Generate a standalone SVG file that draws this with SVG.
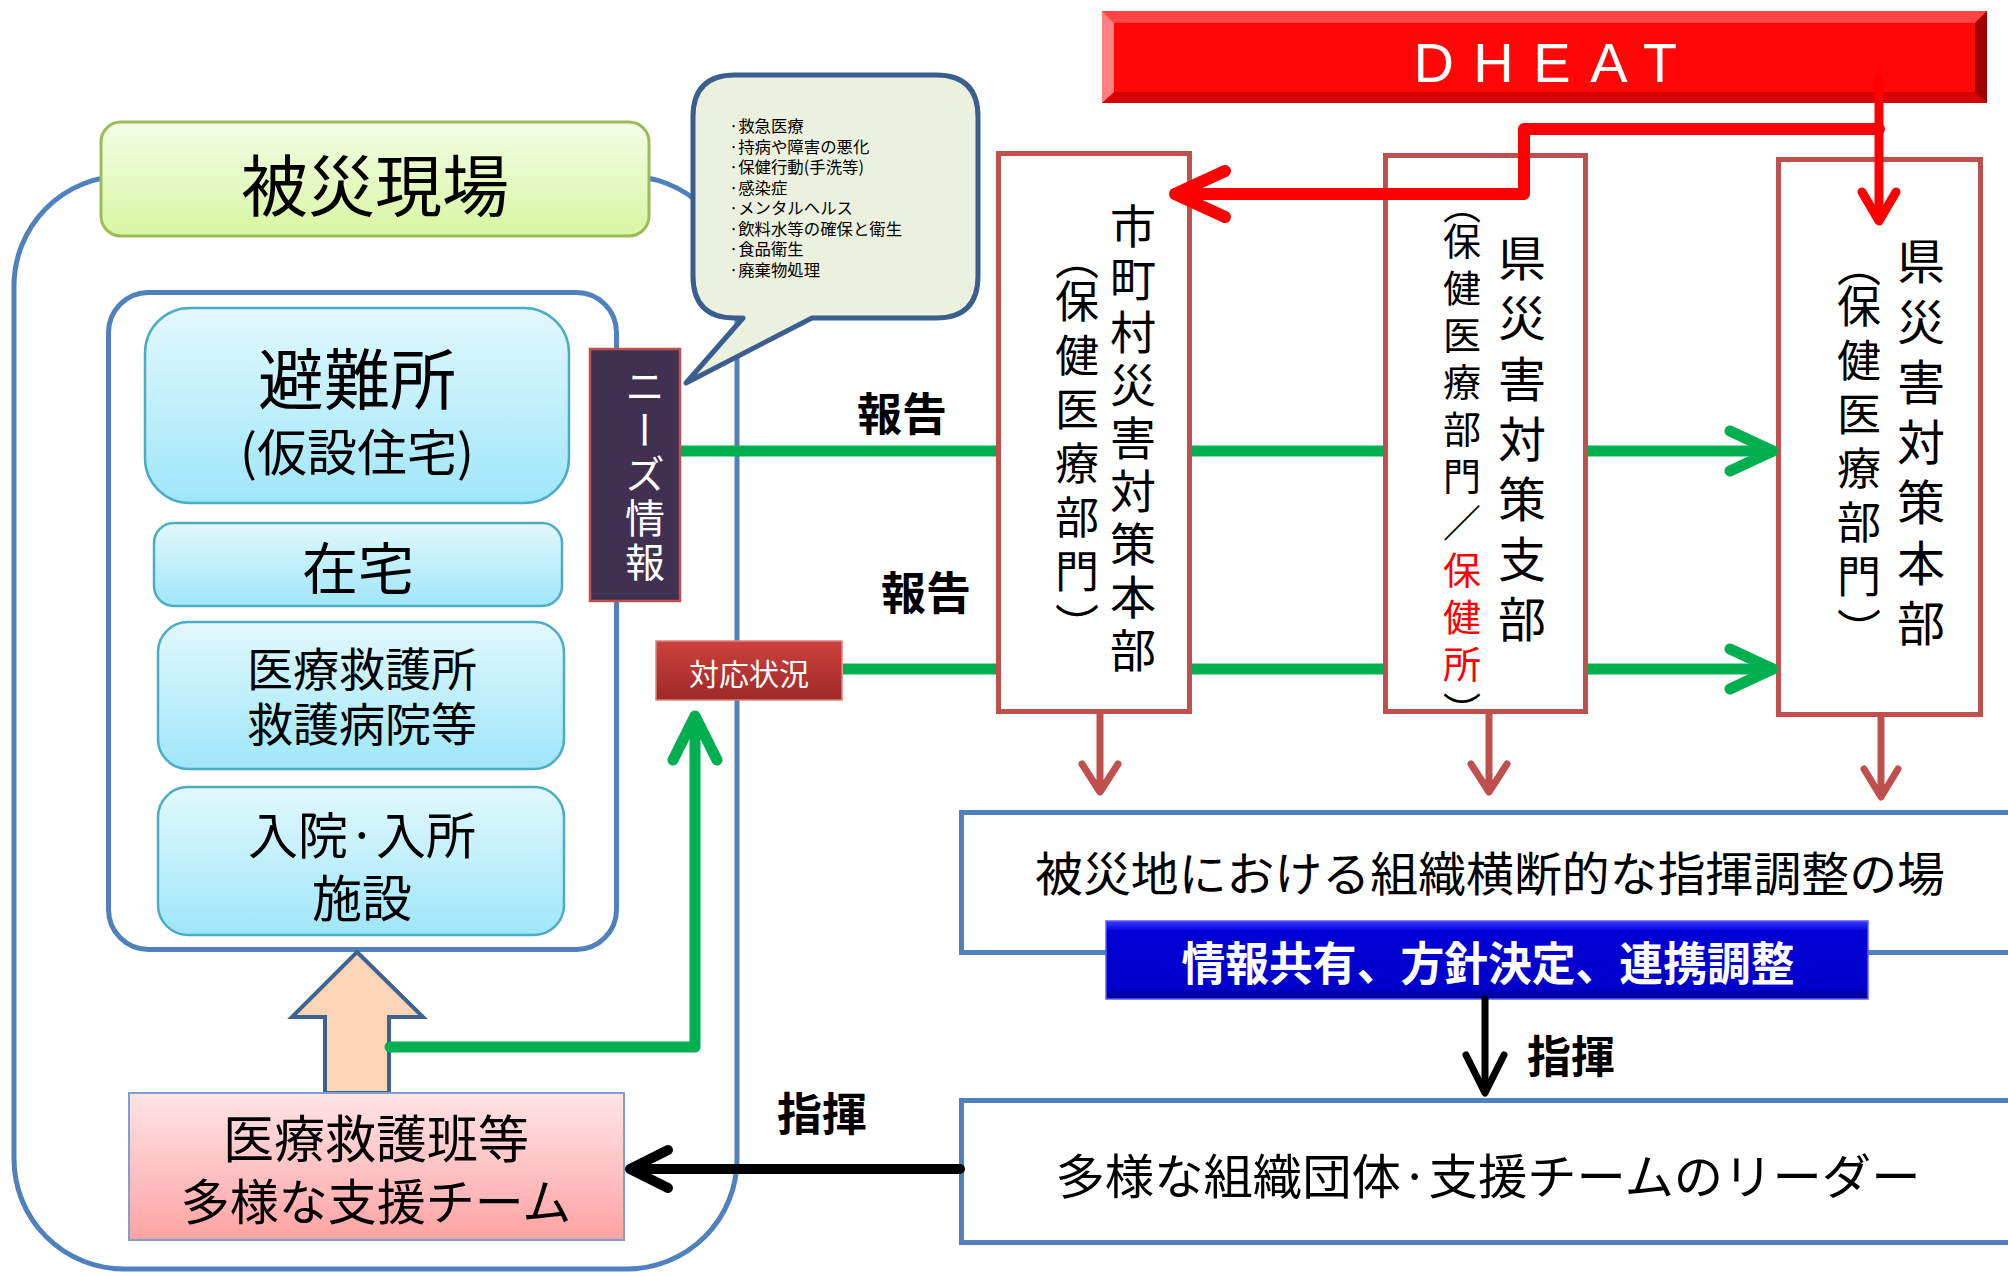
<svg xmlns="http://www.w3.org/2000/svg" width="2008" height="1276" viewBox="0 0 2008 1276">
<defs>
<linearGradient id="gTitle" x1="0" y1="0" x2="0" y2="1"><stop offset="0" stop-color="#f3fde6"/><stop offset="1" stop-color="#d8f6a2"/></linearGradient>
<linearGradient id="gCyan" x1="0" y1="0" x2="0" y2="1"><stop offset="0" stop-color="#e2f8fd"/><stop offset="1" stop-color="#9fe6f9"/></linearGradient>
<linearGradient id="gPink" x1="0" y1="0" x2="0" y2="1"><stop offset="0" stop-color="#ffe4e7"/><stop offset="1" stop-color="#ffa3a3"/></linearGradient>
<linearGradient id="gRed" x1="0" y1="0" x2="0" y2="1"><stop offset="0" stop-color="#cd413e"/><stop offset="1" stop-color="#9f2928"/></linearGradient>
<linearGradient id="gBlue" x1="0" y1="0" x2="0" y2="1"><stop offset="0" stop-color="#3a3aff"/><stop offset="0.11" stop-color="#0a0ae0"/><stop offset="0.12" stop-color="#0000d6"/><stop offset="0.88" stop-color="#0000cc"/><stop offset="0.9" stop-color="#0000b0"/><stop offset="1" stop-color="#00009e"/></linearGradient>
</defs>
<style>
.cjk{font-family:"Noto Sans CJK JP","Noto Sans CJK SC",sans-serif}
.v{writing-mode:vertical-rl}
.b{font-weight:bold}
.frame{fill:none;stroke:#4f81bd;stroke-width:5}
.cyan{fill:url(#gCyan);stroke:#4bacc6;stroke-width:2.5}
.hq{fill:#fff;stroke:#c0504d;stroke-width:5}
.wide{fill:#fff;stroke:#4f81bd;stroke-width:5}
.green{fill:none;stroke:#00b050;stroke-width:11;stroke-linecap:round;stroke-linejoin:round}
.greenline{fill:none;stroke:#00b050;stroke-width:11}
.dred{fill:none;stroke:#c0504d;stroke-width:7;stroke-linecap:round;stroke-linejoin:round}
.red{fill:none;stroke:#ff0000;stroke-linecap:round;stroke-linejoin:round}
.blk{fill:none;stroke:#000;stroke-linecap:round;stroke-linejoin:round}
.up{text-orientation:upright;font-feature-settings:"vert" 0,"vrt2" 0}
</style>
<rect x="0" y="0" width="2008" height="1276" fill="#fff"/>

<g id="site-frame">
<rect class="frame" x="14" y="176" width="723" height="1093" rx="110"/>
</g>
<g id="title">
<rect x="101" y="122" width="548" height="114" rx="20" fill="url(#gTitle)" stroke="#9bbb59" stroke-width="3"/>
<text class="cjk" x="375" y="211" font-size="67" text-anchor="middle">被災現場</text>
</g>
<g id="inner-frame">
<rect class="frame" x="108.5" y="292.5" width="508" height="657" rx="40"/>
</g>
<g id="shelter">
<rect class="cyan" x="145" y="308" width="424" height="195" rx="45"/>
<text class="cjk" x="357" y="404" font-size="66" text-anchor="middle">避難所</text>
<text class="cjk" x="357" y="471" font-size="50" text-anchor="middle">(仮設住宅)</text>
</g>
<g id="home">
<rect class="cyan" x="154" y="523" width="408" height="83" rx="20"/>
<text class="cjk" x="358" y="589" font-size="56" text-anchor="middle">在宅</text>
</g>
<g id="aid-station">
<rect class="cyan" x="158" y="622" width="406" height="147" rx="30"/>
<text class="cjk" x="362" y="686" font-size="46" text-anchor="middle">医療救護所</text>
<text class="cjk" x="362" y="741" font-size="46" text-anchor="middle">救護病院等</text>
</g>
<g id="facility">
<rect class="cyan" x="158" y="787" width="406" height="148" rx="30"/>
<text class="cjk" x="362" y="854" font-size="50" text-anchor="middle">入院·入所</text>
<text class="cjk" x="362" y="917" font-size="50" text-anchor="middle">施設</text>
</g>
<g id="needs-bubble">
<path d="M735,75 H936 Q978,75 978,117 V276 Q978,318 936,318 H812 L686,383 L743,318 H735 Q693,318 693,276 V117 Q693,75 735,75 Z" fill="#ebf1de" stroke="#3a5f8f" stroke-width="5" stroke-linejoin="round"/>
<g class="cjk" font-size="16.4">
<text x="729" y="132">·救急医療</text>
<text x="729" y="152.6">·持病や障害の悪化</text>
<text x="729" y="173.1">·保健行動(手洗等)</text>
<text x="729" y="193.7">·感染症</text>
<text x="729" y="214.3">·メンタルヘルス</text>
<text x="729" y="234.9">·飲料水等の確保と衛生</text>
<text x="729" y="255.4">·食品衛生</text>
<text x="729" y="276">·廃棄物処理</text>
</g>
</g>
<g id="needs-info">
<rect x="590" y="349" width="90" height="252" fill="#403152" stroke="#c0504d" stroke-width="2.5"/>
<text class="cjk v" x="645" y="366" font-size="40" letter-spacing="4" fill="#fff">ニーズ情報</text>
</g>
<g id="response-status">
<rect x="656" y="641" width="186" height="59" fill="url(#gRed)" stroke="#d9837d" stroke-width="1.5"/>
<text class="cjk" x="749" y="685" font-size="30" text-anchor="middle" fill="#fff">対応状況</text>
</g>
<g id="support-arrow">
<polygon points="357,952 423,1017 389,1017 389,1093 325,1093 325,1017 292,1017" fill="#fbd5b5" stroke="#3f6291" stroke-width="4" stroke-linejoin="miter"/>
</g>
<g id="medical-teams">
<rect x="129" y="1093" width="495" height="147" fill="url(#gPink)" stroke="#7f9fd0" stroke-width="2"/>
<text class="cjk" x="376" y="1158" font-size="51" text-anchor="middle">医療救護班等</text>
<text class="cjk" x="376" y="1220" font-size="49" text-anchor="middle">多様な支援チーム</text>
</g>

<g id="city-hq">
<rect class="hq" x="998.5" y="153.5" width="191" height="558"/>
<text class="cjk v" x="1133" y="203" font-size="46" letter-spacing="6.9">市町村災害対策本部</text>
<text class="cjk v" x="1077" y="236" font-size="44" letter-spacing="10"><tspan y="236">（</tspan><tspan y="279">保健医療部門）</tspan></text>
</g>
<g id="pref-branch">
<rect class="hq" x="1385.5" y="155.5" width="200" height="556"/>
<text class="cjk v" x="1522" y="234" font-size="48" letter-spacing="12.2">県災害対策支部</text>
<text class="cjk v" x="1462" y="186" font-size="38" letter-spacing="9"><tspan y="186">（</tspan><tspan y="222">保健医療部門</tspan><tspan class="up">／</tspan><tspan fill="#ff0000">保健所</tspan><tspan>）</tspan></text>
</g>
<g id="pref-hq">
<rect class="hq" x="1778.5" y="159.5" width="202" height="555"/>
<text class="cjk v" x="1921" y="237" font-size="48" letter-spacing="12.3">県災害対策本部</text>
<text class="cjk v" x="1859" y="243" font-size="44" letter-spacing="10"><tspan y="243">（</tspan><tspan y="284">保健医療部門）</tspan></text>
</g>
<g id="dheat">
<rect x="1102" y="11" width="885" height="92" fill="#ff0707"/>
<polygon points="1102,11 1987,11 1975,23 1114,23" fill="#ff4444"/>
<polygon points="1102,103 1987,103 1975,92 1114,92" fill="#d60000"/>
<polygon points="1102,11 1114,23 1114,92 1102,103" fill="#ff8080"/>
<polygon points="1987,11 1975,23 1975,92 1987,103" fill="#a00000"/>
<text x="1555" y="82" font-family="Liberation Sans, Arial, sans-serif" font-size="56" letter-spacing="19.5" text-anchor="middle" fill="#fff">DHEAT</text>
</g>
<g id="coordination">
<rect class="wide" x="961.5" y="812.5" width="1060" height="140"/>
<text class="cjk" x="1490" y="891" font-size="47" text-anchor="middle" textLength="910" lengthAdjust="spacingAndGlyphs">被災地における組織横断的な指揮調整の場</text>
</g>
<g id="sharing">
<rect x="1106" y="921" width="762" height="78" fill="url(#gBlue)" stroke="#5a5aff" stroke-width="1.5"/>
<text class="cjk b" x="1488" y="980" font-size="46" text-anchor="middle" fill="#fff" textLength="613" lengthAdjust="spacingAndGlyphs">情報共有、方針決定、連携調整</text>
</g>
<g id="leaders">
<rect class="wide" x="961.5" y="1100.5" width="1060" height="142"/>
<text class="cjk" x="1488" y="1194" font-size="48" text-anchor="middle" textLength="865" lengthAdjust="spacingAndGlyphs">多様な組織団体·支援チームのリーダー</text>
</g>

<g id="connectors">
<path class="greenline" d="M681,451 H996 M1192,451 H1383 M1588,451 H1770"/>
<path class="green" d="M1730,431 L1773,451 L1730,471"/>
<path class="greenline" d="M843,669 H996 M1192,669 H1383 M1588,669 H1770"/>
<path class="green" d="M1730,649 L1773,669 L1730,689"/>
<path class="green" d="M390,1047 H695 V722"/>
<path class="green" d="M673,760 L695,716 L717,760"/>
<path class="dred" d="M1100,714 V788 M1082,764 L1100,792 L1118,764"/>
<path class="dred" d="M1489,714 V788 M1471,764 L1489,792 L1507,764"/>
<path class="dred" d="M1881,717 V793 M1864,769 L1881,797 L1898,769"/>
<path class="red" stroke-width="9" d="M1879,78 V218"/>
<path class="red" stroke-width="9" d="M1862,192 L1879,221 L1896,192"/>
<path class="red" stroke-width="12" stroke-linejoin="round" d="M1879,129 H1524 V194 H1180"/>
<path class="red" stroke-width="12" d="M1225,171 L1175,194 L1225,217"/>
<path class="blk" stroke-width="7" d="M1485,999 V1088"/>
<path class="blk" stroke-width="7" stroke-linejoin="miter" d="M1466,1055 L1485,1093 L1504,1055"/>
<path class="blk" stroke-width="10" d="M960,1169 H634"/>
<path class="blk" stroke-width="10" d="M668,1150 L630,1169 L668,1188"/>
</g>
<g id="labels">
<text class="cjk b" x="857" y="431" font-size="45">報告</text>
<text class="cjk b" x="881" y="610" font-size="45">報告</text>
<text class="cjk b" x="1527" y="1073" font-size="44">指揮</text>
<text class="cjk b" x="777" y="1131" font-size="45">指揮</text>
</g>
</svg>
